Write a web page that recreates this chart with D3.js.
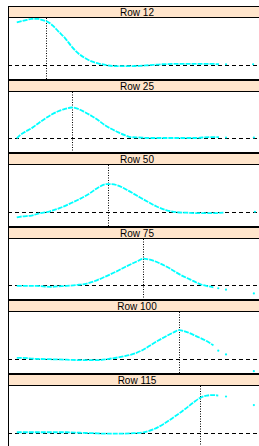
<!DOCTYPE html>
<html>
<head>
<meta charset="utf-8">
<script src="https://cdn.jsdelivr.net/npm/d3@7"></script>
<style>
  html, body { margin: 0; padding: 0; background: #fff; }
  svg { display: block; }
</style>
</head>
<body>
<svg id="chart" width="259" height="446"></svg>
<script>
// ---- data ----
const panelLabels = ["Row 12", "Row 25", "Row 50", "Row 75", "Row 100", "Row 115"];
const markerX = [14.7, 24.7, 38.6, 52.4, 66.3, 74.6];

const curve12 = [[3.4,0.90],[6.6,0.94],[9.2,0.97],[11.7,0.97],[13.7,0.94],[15.0,0.92],[17.6,0.82],[19.5,0.71],[22.1,0.57],[24.7,0.39],[27.2,0.25],[29.8,0.15],[32.4,0.08],[35.6,0.03],[38.3,0.0],[42.1,-0.02],[46.0,-0.02],[50.8,-0.015],[54.7,0.0],[59.7,0.02],[69.0,0.03],[77.9,0.03],[81.8,0.02]];
const curve25 = [[3.4,0.0],[4.7,0.07],[6.6,0.14],[9.2,0.22],[11.7,0.32],[14.3,0.42],[16.9,0.51],[19.5,0.58],[22.1,0.63],[24.7,0.66],[27.2,0.63],[29.8,0.56],[32.4,0.48],[35.0,0.39],[37.6,0.28],[40.2,0.20],[42.8,0.13],[45.3,0.07],[47.3,0.03],[50.8,0.02],[54.7,0.01],[66.3,0.01],[72.9,0.01],[77.9,0.03],[81.8,0.03]];
const curve50 = [[3.4,-0.11],[5.3,-0.09],[9.2,-0.07],[12.4,-0.02],[16.3,0.02],[20.2,0.09],[24.0,0.18],[27.9,0.28],[31.8,0.40],[35.0,0.52],[38.2,0.59],[39.5,0.59],[42.1,0.57],[46.0,0.47],[49.9,0.35],[53.8,0.23],[57.6,0.12],[61.5,0.04],[65.4,0.0],[69.3,-0.01],[74.4,-0.02],[79.6,-0.02],[83.5,-0.01]];
const curve75 = [[3.4,-0.01],[7.2,-0.01],[11.1,-0.01],[16.3,-0.03],[18.9,-0.02],[22.7,-0.01],[26.6,0.01],[30.5,0.04],[34.4,0.11],[38.2,0.20],[42.1,0.30],[46.0,0.41],[49.9,0.51],[52.5,0.57],[55.0,0.55],[58.9,0.47],[62.8,0.36],[66.7,0.23],[70.5,0.13],[74.4,0.03],[77.0,-0.01],[79.6,-0.04]];
const curve100 = [[3.4,0.03],[5.9,0.03],[9.8,0.01],[16.3,0.0],[22.7,-0.01],[29.2,-0.02],[34.4,-0.02],[39.5,0.01],[44.7,0.06],[48.6,0.11],[52.4,0.20],[56.3,0.33],[60.2,0.45],[64.1,0.56],[66.3,0.61],[69.3,0.57],[73.1,0.48],[77.0,0.38],[79.6,0.29]];
const curve115 = [[3.4,0.02],[7.2,0.02],[12.4,0.02],[17.6,0.02],[22.7,0.02],[27.9,0.01],[33.1,0.0],[38.2,-0.01],[43.4,-0.01],[48.6,0.0],[52.5,0.02],[56.3,0.08],[60.2,0.19],[64.1,0.33],[68.0,0.48],[71.8,0.64],[74.4,0.74],[77.0,0.79],[79.6,0.80],[81.5,0.79]];

const tail12 = [[84.5,0.02],[95.0,0.02]];
const tail25 = [[84.5,0.02],[95.3,0.02]];
const tail50 = [[95.7,0.01]];
const tail75 = [[81.5,-0.06],[84.5,-0.09],[95.3,-0.17]];
const tail100 = [[81.5,0.18],[84.5,0.10],[95.3,-0.25]];
const tail115 = [[84.5,0.77],[95.3,0.59]];

const curves = [curve12, curve25, curve50, curve75, curve100, curve115];
const tails = [tail12, tail25, tail50, tail75, tail100, tail115];

// ---- layout ----
const svg = d3.select("#chart");
const left = 8, right = 266, top0 = 6, pitch = 73.6, stripH = 11;
const cyan = "#00ffff";

const x = d3.scaleLinear().domain([0, 100]).range([left, right]);

const tops = panelLabels.map((d, i) => Math.round(top0 + i * pitch));
const heights = tops.map((t, i) => (i < tops.length - 1 ? tops[i + 1] : Math.round(top0 + (i + 1) * pitch)) - t);

panelLabels.forEach((label, i) => {
  const t = tops[i], h = heights[i];
  const g = svg.append("g");
  const plotTop = t + stripH + 1, plotBot = t + h;
  const y = d3.scaleLinear().domain([-0.31, 0.99]).range([plotBot, plotTop]);

  const clipId = "clip" + i;
  svg.append("clipPath").attr("id", clipId)
    .append("rect").attr("x", left).attr("y", plotTop).attr("width", right - left).attr("height", plotBot - plotTop);

  // strip
  g.append("rect").attr("x", left + 0.5).attr("y", t + 0.5)
    .attr("width", right - left - 1).attr("height", stripH)
    .attr("fill", "#ffe5cc").attr("stroke", "#000").attr("stroke-width", 1);
  g.append("text").attr("x", (left + right) / 2).attr("y", t + stripH / 2 + 4.2)
    .attr("text-anchor", "middle")
    .attr("font-family", "Liberation Sans, Arial, sans-serif")
    .attr("font-size", 10).attr("fill", "#000").text(label);

  const pg = g.append("g").attr("clip-path", `url(#${clipId})`);

  // reference lines
  const y0 = Math.round(y(0)) + 0.5;
  pg.append("line").attr("x1", left).attr("x2", right).attr("y1", y0).attr("y2", y0)
    .attr("stroke", "#000").attr("stroke-width", 1).attr("stroke-dasharray", "4,3");
  const xv = Math.round(x(markerX[i])) + 0.5;
  pg.append("line").attr("x1", xv).attr("x2", xv).attr("y1", plotTop).attr("y2", plotBot)
    .attr("stroke", "#000").attr("stroke-width", 1).attr("stroke-dasharray", "1,1.5");

  // curve
  const line = d3.line().x(d => x(d[0])).y(d => y(d[1])).curve(d3.curveMonotoneX);
  pg.append("path").datum(curves[i]).attr("d", line)
    .attr("fill", "none").attr("stroke", cyan).attr("stroke-width", 1.8)
    .attr("stroke-dasharray", "5,1");
  pg.selectAll("circle.tail").data(tails[i]).enter().append("circle")
    .attr("cx", d => x(d[0])).attr("cy", d => y(d[1])).attr("r", 1.1).attr("fill", cyan);

  // panel border
  g.append("rect").attr("x", left + 0.5).attr("y", t + 0.5)
    .attr("width", right - left - 1).attr("height", h - 1)
    .attr("fill", "none").attr("stroke", "#000").attr("stroke-width", 1);
});
</script>
</body>
</html>
